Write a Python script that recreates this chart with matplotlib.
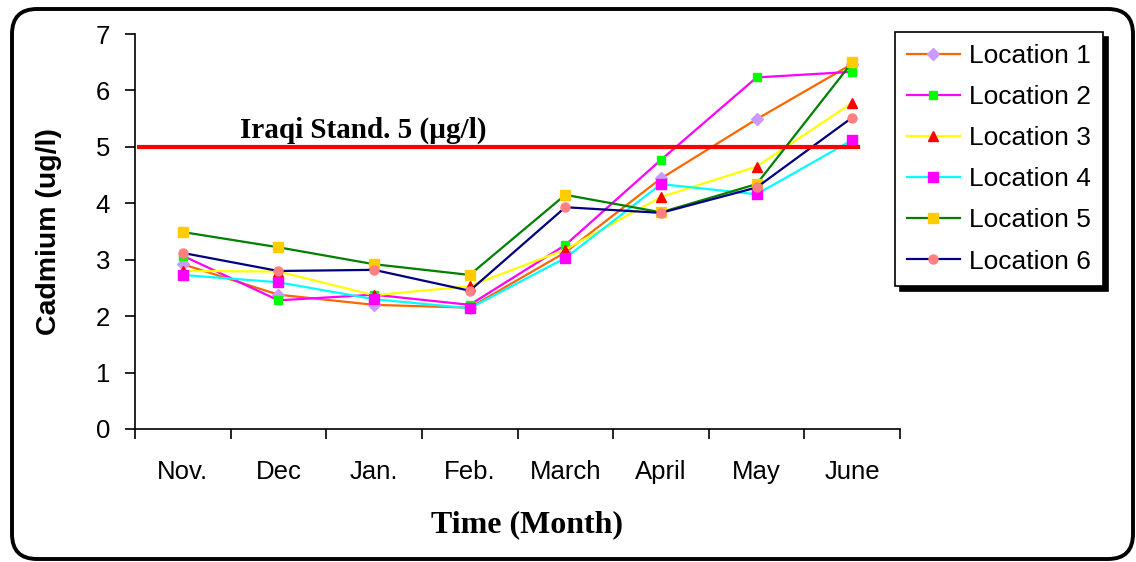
import numpy as np
import matplotlib
matplotlib.use("Agg")
import matplotlib.pyplot as plt
from matplotlib.patches import FancyBboxPatch

# Data
months = ['Nov.', 'Dec', 'Jan.', 'Feb.', 'March', 'April', 'May', 'June']
loc1 = [2.92, 2.38, 2.20, 2.15, 3.13, 4.44, 5.49, 6.47]
loc2 = [3.07, 2.28, 2.38, 2.20, 3.26, 4.77, 6.23, 6.33]
loc3 = [2.80, 2.79, 2.37, 2.53, 3.18, 4.11, 4.65, 5.78]
loc4 = [2.73, 2.60, 2.30, 2.14, 3.03, 4.34, 4.16, 5.12]
loc5 = [3.49, 3.22, 2.92, 2.73, 4.15, 3.84, 4.34, 6.50]
loc6 = [3.12, 2.80, 2.82, 2.45, 3.93, 3.83, 4.28, 5.52]
series_names = ['Location 1', 'Location 2', 'Location 3', 'Location 4', 'Location 5', 'Location 6']
standard = 5
standard_label = 'Iraqi Stand. 5 (µg/l)'

sans = ['Liberation Sans', 'DejaVu Sans']
serif = ['Liberation Serif', 'DejaVu Serif']
plt.rcParams['font.family'] = sans

fig = plt.figure(figsize=(11.36, 5.62), dpi=100)
ax = fig.add_axes([0.1188, 0.2367, 0.6735, 0.7028])

x = np.arange(len(months))
# (line colour, marker, marker colour, marker size)
styles = [
    ('#FF6600', 'D', '#CC99FF', 6),
    ('#FF00FF', 's', '#00FF00', 6),
    ('#FFFF00', '^', '#FF0000', 7.5),
    ('#00FFFF', 's', '#FF00FF', 7.5),
    ('#008000', 's', '#FFCC00', 7.5),
    ('#000080', 'o', '#FF8080', 6.5),
]
for vals, name, (lc, mk, mc, ms) in zip([loc1, loc2, loc3, loc4, loc5, loc6], series_names, styles):
    ax.plot(x, vals, color=lc, lw=1.6, marker=mk, markersize=ms,
            markerfacecolor=mc, markeredgecolor=mc, label=name)

# standard line
ax.axhline(standard, xmin=0.005, xmax=0.945, color='#FF0000', lw=3)
ax.text(0.6, 5.16, standard_label, fontsize=21, fontweight='bold',
        family=serif, ha='left', va='baseline')

ax.set_xlim(-0.5, len(months) - 0.5)
ax.set_ylim(0, 7)
ax.set_yticks(range(0, 8))
ax.set_xticks(np.arange(-0.5, len(months), 1.0))
ax.set_xticklabels([])
ax.set_xticks(x, minor=True)
ax.set_xticklabels(months, minor=True)
ax.tick_params(axis='x', which='major', direction='out', length=7, width=1.2)
ax.tick_params(axis='x', which='minor', length=0, pad=22, labelsize=18.5)
ax.tick_params(axis='y', direction='out', length=7, width=1.2, pad=11, labelsize=18.5)
for s in ['top', 'right']:
    ax.spines[s].set_visible(False)
for s in ['left', 'bottom']:
    ax.spines[s].set_linewidth(1.2)

ax.set_xlabel('Time (Month)', fontsize=23, fontweight='bold', family=serif, va='baseline')
ax.xaxis.set_label_coords(0.512, -0.261)
ax.set_ylabel('Cadmium (ug/l)', fontsize=20.5, fontweight='bold', va='center')
ax.yaxis.set_label_coords(-0.112, 0.5)

leg = ax.legend(loc='upper left', bbox_to_anchor=(895 / 1136, 1 - 32 / 562),
                bbox_transform=fig.transFigure, borderaxespad=0, fontsize=19,
                frameon=True, fancybox=False, edgecolor='black', framealpha=1,
                handlelength=2.0, handletextpad=0.35, labelspacing=0.65, borderpad=0.45,
                shadow={'ox': 3.6, 'oy': -3.6, 'facecolor': 'black', 'edgecolor': 'black', 'alpha': 1})
leg.get_frame().set_linewidth(1.2)

# rounded outer border
frame = FancyBboxPatch((0.12, 0.03), 11.21, 5.50, boxstyle='round,pad=0,rounding_size=0.25',
                       transform=fig.dpi_scale_trans, facecolor='none', edgecolor='black', lw=2.8)
fig.patches.append(frame)

fig.savefig('out.png', dpi=100)
